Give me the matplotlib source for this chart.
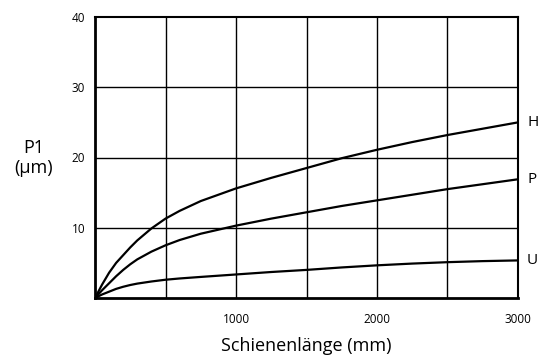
import matplotlib
matplotlib.use("Agg")
import matplotlib.pyplot as plt

plt.rcParams['font.family'] = ['Open Sans', 'DejaVu Sans']

# Data
x_mm = [0, 50, 100, 150, 200, 250, 300, 400, 500, 600, 750, 1000,
        1250, 1500, 1750, 2000, 2250, 2500, 2750, 3000]
H = [0, 1.9, 3.6, 5.0, 6.1, 7.2, 8.2, 9.9, 11.3, 12.4, 13.8, 15.6,
     17.1, 18.5, 19.9, 21.1, 22.2, 23.2, 24.1, 25.0]
P = [0, 1.1, 2.1, 3.1, 4.0, 4.8, 5.5, 6.6, 7.5, 8.25, 9.15, 10.3,
     11.3, 12.2, 13.1, 13.9, 14.7, 15.5, 16.2, 16.9]
U = [0, 0.5, 0.9, 1.3, 1.6, 1.85, 2.05, 2.35, 2.6, 2.78, 3.0, 3.35,
     3.7, 4.0, 4.35, 4.65, 4.9, 5.1, 5.25, 5.35]
series = {"H": H, "P": P, "U": U}

x_ticks = [1000, 2000, 3000]
y_ticks = [10, 20, 30, 40]
x_grid = [500, 1000, 1500, 2000, 2500]
y_grid = [10, 20, 30]

fig = plt.figure(figsize=(5.39, 3.58), dpi=100)
ax = fig.add_axes([95/539, 1-298/358, 423/539, 281/358])

for g in x_grid:
    ax.axvline(g, color='black', lw=1.0, zorder=1)
for g in y_grid:
    ax.axhline(g, color='black', lw=1.0, zorder=1)

for name, vals in series.items():
    ax.plot(x_mm, vals, color='black', lw=1.6, zorder=3,
            solid_capstyle='butt', solid_joinstyle='round')
    ax.annotate(name, xy=(x_mm[-1], vals[-1]), xytext=(6.5, 0),
                textcoords='offset points', va='center', ha='left', fontsize=11)

ax.set_xlim(0, 3000)
ax.set_ylim(0, 40)
ax.set_xticks(x_ticks)
ax.set_yticks(y_ticks)
ax.tick_params(length=0, labelsize=8.5, pad=7)
ax.tick_params(axis='x', pad=11)
for side in ['left', 'bottom']:
    ax.spines[side].set_linewidth(2.0)
for side in ['top', 'right']:
    ax.spines[side].set_linewidth(1.5)

ax.set_xlabel("Schienenlänge (mm)", fontsize=13, labelpad=8)
fig.text(34/539, 1-158/358, "P1\n(µm)", ha='center', va='center', fontsize=13,
         linespacing=1.15)

fig.savefig("out.png", dpi=100)
